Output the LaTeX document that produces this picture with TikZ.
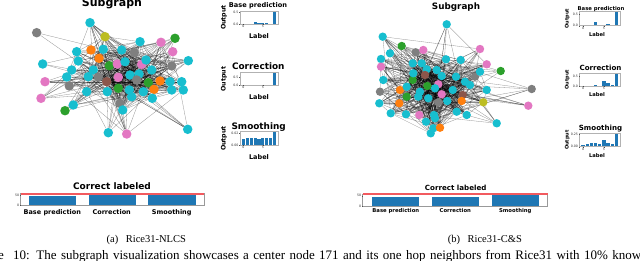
\documentclass[tikz,border=0pt]{standalone}
\usepackage{fontspec}
\setmainfont{Liberation Serif}
\newfontfamily\dv{DejaVu Sans}
\pgfdeclarelayer{bg}
\pgfsetlayers{bg,main}
\definecolor{cC}{HTML}{17BECF}
\definecolor{cP}{HTML}{E377C2}
\definecolor{cG}{HTML}{7F7F7F}
\definecolor{cO}{HTML}{FF7F0E}
\definecolor{cN}{HTML}{2CA02C}
\definecolor{cY}{HTML}{BCBD22}
\definecolor{cB}{HTML}{8C564B}
\definecolor{barblue}{HTML}{1F77B4}
\definecolor{redln}{HTML}{F25A5F}
\newcommand\fs[1]{\fontsize{#1}{#1}\selectfont}
\tikzset{
  gnode/.style={circle,inner sep=0pt,draw=none},
  gedge/.style={draw=black,opacity=0.42,line width=0.3pt},
  spine/.style={draw=gray!60,line width=0.5pt},
  tk/.style={draw=black!70,line width=0.3pt},
  tlab/.style={font=\dv\fs{3.2},inner sep=0.4pt,text=black!80},
  bttl/.style={font=\dv\bfseries,inner sep=0pt},
  redbar/.style={draw=redln,line width=1.8pt},
}
\newcommand\drawnet[7]{%
  \foreach \x/\y/\c [count=\k] in {#7}{
    \node[gnode,minimum size=#6,fill=\c] (#1\k) at (\x,\y) {};
    \pgfmathsetmacro\rr{veclen(\x-#4,\y-#5)}
    \expandafter\xdef\csname #1r\k\endcsname{\rr}
  }
  \begin{pgfonlayer}{bg}
  \foreach \k in {1,...,#2}{\ifnum\k=#3\relax\else\draw[gedge] (#1#3) -- (#1\k);\fi}
  \pgfmathtruncatemacro\nm{#2-1}
  \foreach \i in {1,...,\nm}{
    \pgfmathtruncatemacro\ii{\i+1}
    \foreach \j in {\ii,...,#2}{
      \edef\ri{\csname #1r\i\endcsname}\edef\rj{\csname #1r\j\endcsname}
      \pgfmathtruncatemacro\hit{rnd<1.15*exp(-(\ri+\rj)/52)}
      \ifnum\hit=1 \draw[gedge] (#1\i) -- (#1\j);\fi
    }
  }
  \end{pgfonlayer}
}
\newcommand\barplot[9]{%
  \begin{scope}[shift={(#1,#2)}]
    \pgfmathsetmacro\bsx{#3/9.68}
    \pgfmathsetmacro\bsy{#4/#5}
    \foreach \v [count=\k from 0] in {#6}{
      \fill[barblue] ({(\k+0.44)*\bsx},#4) rectangle ({(\k+1.24)*\bsx},{#4-\v*\bsy});
    }
    \draw[spine] (0,0) rectangle (#3,#4);
    \draw[tk] (0,#4) -- ++(-1,0) node[tlab,anchor=east] {#9};
    \draw[tk] (0,{#4-#7*\bsy}) -- ++(-1,0) node[tlab,anchor=east] {#8};
    \draw[tk] ({0.84*\bsx},#4) -- ++(0,1) node[tlab,anchor=north] {0};
    \draw[tk] ({5.84*\bsx},#4) -- ++(0,1) node[tlab,anchor=north] {5};
  \end{scope}}
\begin{document}
\begin{tikzpicture}[x=1pt,y=-1pt]
\useasboundingbox (0,0) rectangle (640,261);
\begin{pgfonlayer}{bg}
\fill[white] (0,0) rectangle (640,261);
\end{pgfonlayer}
\begin{scope}
\clip (0,0) rectangle (640,261);
\pgfmathsetseed{7}
% ---------- left subgraph ----------
\node[bttl,font=\dv\bfseries\fs{11},anchor=base] (subL) at (112,7) {Subgraph};
\drawnet{L}{57}{29}{128}{78}{9.5pt}{36.7/32.7/cG, 90/22.7/cC, 105/36.7/cY, 140/41.7/cC, 161/42.3/cP, 175/38.3/cN, 91/50/cO, 103.3/49.3/cC, 76.7/51.7/cC, 121.7/50/cC, 134.3/52.7/cG, 172.7/51.7/cP, 188.3/60.7/cC, 99/58.3/cO, 78.3/61/cC, 42.7/64/cC, 109.3/65.7/cN, 117.3/64/cP, 125/61.7/cC, 141.7/64.3/cP, 146/60/cC, 171.7/66/cG, 151.7/70/cC, 71.7/70/cC, 93.3/70/cC, 66.7/77/cC, 88.3/76.7/cC, 98.3/77/cG, 106.7/81.7/cB, 118.3/77.3/cP, 130/75/cC, 139/74/cC, 136.7/80/cG, 148.3/82.7/cN, 160/81/cO, 154/89.3/cO, 170/81.7/cC, 181.7/81.7/cC, 183.3/90/cC, 171.7/90/cC, 45/81.7/cP, 69.3/86/cG, 86.7/91.7/cC, 107.3/91.7/cC, 118.3/88.3/cN, 129.3/90/cC, 131.7/96.7/cC, 143.3/91.7/cC, 152.3/98.3/cC, 41/98.3/cP, 73.3/105/cC, 65/110.7/cN, 120/103.3/cG, 122.7/110/cC, 108.3/132.7/cC, 126.7/134/cP, 187.7/129.3/cC}
% ---------- right subgraph ----------
\node[bttl,font=\dv\bfseries\fs{8.8},anchor=base] (subR) at (456,9.8) {Subgraph};
\drawnet{R}{61}{19}{437}{88}{8.4pt}{446.7/24.3/cC, 382.7/36.7/cC, 401.7/46/cN, 415.7/52.3/cG, 423.3/50/cP, 390/53.3/cC, 480/49/cP, 486.7/64.3/cP, 500.7/71/cN, 381/59/cC, 381/66.7/cP, 412.7/63.3/cC, 421.7/63.3/cC, 446/59.3/cC, 460.7/60/cC, 426.7/69.3/cC, 436.7/70/cC, 441.7/76/cC, 425/75/cB, 475/76.7/cG, 480/71.7/cC, 412.7/80/cN, 413.3/73.3/cC, 456/76.7/cC, 465/81.7/cC, 470/85/cC, 383.3/80/cC, 380/91.7/cG, 400/90/cO, 406.7/86.7/cC, 427.3/86/cN, 438.3/84.3/cP, 452.7/90/cC, 420/91.7/cC, 435/88.3/cC, 486.7/90/cC, 531.7/89/cG, 406.7/96.7/cN, 399.3/103.3/cO, 379.3/103.3/cC, 418.3/96.7/cC, 428.3/98.3/cC, 441.7/94.3/cP, 438.3/102.3/cG, 447.3/101/cC, 462.7/95/cB, 461.7/101/cO, 483.3/102.3/cY, 528.3/105.7/cP, 390.7/113.3/cC, 406/114.3/cC, 419.3/115/cP, 434/115/cC, 456.7/111.7/cC, 466.7/115/cC, 435/118.3/cC, 426/121.7/cC, 433.3/128.3/cC, 440/127.7/cO, 496.7/123.3/cC, 430.7/133.3/cC}
% ---------- left bar charts ----------
\barplot{240}{11}{38}{13}{0.556}{0.01,0.01,0.01,0.1,0.03,0.03,0.05,0.02,0.55}{0.5}{0.5}{0.0}
\barplot{240}{72.7}{38}{12.3}{0.8}{0.005,0.02,0.005,0.03,0.005,0.03,0.03,0.005,0.78}{0.5}{0.5}{0.0}
\barplot{240}{131.7}{38}{13.3}{0.0227}{0.011,0.0115,0.0115,0.0115,0.0105,0.0115,0.0115,0.0115,0.0215}{0.02}{0.02}{0.00}
\node[bttl,font=\dv\bfseries\fs{6.6},anchor=base] (tbL) at (258,7.5) {Base prediction};
\node[bttl,font=\dv\bfseries\fs{8.9},anchor=base] (tcL) at (258.3,69.5) {Correction};
\node[bttl,font=\dv\bfseries\fs{8.9},anchor=base] (tsL) at (258.7,129.5) {Smoothing};
\node[bttl,font=\dv\bfseries\fs{6.3},rotate=90] (obL) at (224,17.5) {Output};
\node[bttl,font=\dv\bfseries\fs{6.3},rotate=90] (ocL) at (224,79) {Output};
\node[bttl,font=\dv\bfseries\fs{6.3},rotate=90] (osL) at (224,138.5) {Output};
\node[bttl,font=\dv\bfseries\fs{6.5}] (lbL) at (259,35.7) {Label};
\node[bttl,font=\dv\bfseries\fs{6.5}] (lcL) at (259,97.2) {Label};
\node[bttl,font=\dv\bfseries\fs{6.5}] (lsL) at (259,157.2) {Label};
% ---------- right bar charts ----------
\barplot{579.5}{11.7}{40.5}{14}{0.6}{0.01,0.01,0.01,0.17,0.05,0.04,0.06,0.03,0.58}{0.5}{0.5}{0.0}
\barplot{579.5}{73.3}{40.5}{12.7}{0.66}{0.01,0.01,0.02,0.04,0.02,0.28,0.17,0.03,0.62}{0.5}{0.5}{0.0}
\barplot{579.5}{133.3}{40.5}{13.4}{0.27}{0.034,0.05,0.08,0.08,0.05,0.13,0.08,0.05,0.26}{0.25}{0.25}{0.00}
\node[bttl,font=\dv\bfseries\fs{5.3},anchor=base] (tbR) at (601,10.5) {Base prediction};
\node[bttl,font=\dv\bfseries\fs{7.1},anchor=base] (tcR) at (600.5,71) {Correction};
\node[bttl,font=\dv\bfseries\fs{7.1},anchor=base] (tsR) at (600.5,130.5) {Smoothing};
\node[bttl,font=\dv\bfseries\fs{5},rotate=90] (obR) at (567.3,18.7) {Output};
\node[bttl,font=\dv\bfseries\fs{5},rotate=90] (ocR) at (567.3,79.7) {Output};
\node[bttl,font=\dv\bfseries\fs{5},rotate=90] (osR) at (567.3,140) {Output};
\node[bttl,font=\dv\bfseries\fs{5.2}] (lbR) at (597,35) {Label};
\node[bttl,font=\dv\bfseries\fs{5.2}] (lcR) at (597,95) {Label};
\node[bttl,font=\dv\bfseries\fs{5.2}] (lsR) at (597,155.5) {Label};
% ---------- bottom: correct labeled (left) ----------
\node[bttl,font=\dv\bfseries\fs{9},anchor=base] (clL) at (112,189.3) {Correct labeled};
\fill[barblue] (28.7,205.7) rectangle (76,195.7);
\fill[barblue] (88.7,205.7) rectangle (135.7,195);
\fill[barblue] (148.3,205.7) rectangle (195.7,195);
\draw[spine,draw=gray!80] (20.7,193.3) rectangle (204,205.7);
\draw[redbar] (20.7,193.8) -- (204,193.8);
\draw[tk] (20.7,195) -- ++(-1,0) node[tlab,anchor=east] (t50L) {50};
\draw[tk] (20.7,205.5) -- ++(-1,0) node[tlab,anchor=east] (t0L) {0};
\node[bttl,font=\dv\bfseries\fs{6.5}] (xbL) at (52.3,212.3) {Base prediction};
\node[bttl,font=\dv\bfseries\fs{6.5}] (xcL) at (111.7,212.3) {Correction};
\node[bttl,font=\dv\bfseries\fs{6.5}] (xsL) at (171.7,212.3) {Smoothing};
% ---------- bottom: correct labeled (right) ----------
\node[bttl,font=\dv\bfseries\fs{7.1},anchor=base] (clR) at (455.7,190.5) {Correct labeled};
\fill[barblue] (372.3,206.5) rectangle (419.3,196.7);
\fill[barblue] (431.7,206.5) rectangle (479,196.7);
\fill[barblue] (491.7,206.5) rectangle (539,195);
\draw[spine,draw=gray!80] (362.7,194) rectangle (547.7,206.7);
\draw[redbar] (362.7,194.3) -- (547.7,194.3);
\draw[tk] (362.7,195.7) -- ++(-1,0) node[tlab,anchor=east] (t50R) {50};
\draw[tk] (362.7,206) -- ++(-1,0) node[tlab,anchor=east] (t0R) {0};
\node[bttl,font=\dv\bfseries\fs{5.3}] (xbR) at (395.8,211) {Base prediction};
\node[bttl,font=\dv\bfseries\fs{5.3}] (xcR) at (455.3,211) {Correction};
\node[bttl,font=\dv\bfseries\fs{5.3}] (xsR) at (515.3,211) {Smoothing};
% ---------- captions ----------
\node[anchor=base west,inner sep=0pt,font=\fs{10.5}] (capa) at (106.5,243) {(a)\hspace{7.5pt}Rice31-NLCS};
\node[anchor=base west,inner sep=0pt,font=\fs{10.5}] (capb) at (447.7,243) {(b)\hspace{7.5pt}Rice31-C\&S};
\node[anchor=base east,inner sep=0pt,font=\fs{13}] (figw) at (4,259.2) {Figure};
\node[anchor=base west,inner sep=0pt,font=\fs{13}] (figc) at (13,259.2) {\makebox[628pt][s]{10: The subgraph visualization showcases a center node 171 and its one hop neighbors from Rice31 with 10\% know}};
\end{scope}
\end{tikzpicture}
\end{document}
